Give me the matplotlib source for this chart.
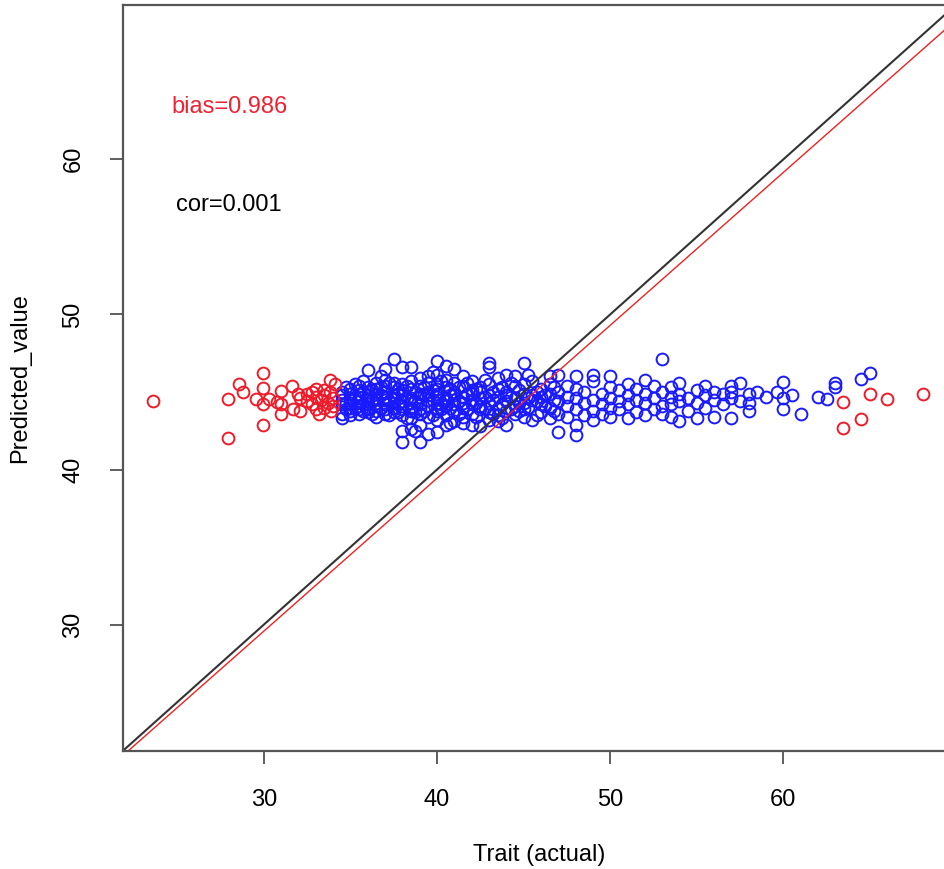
import numpy as np
import matplotlib.pyplot as plt

plt.rcParams['font.family'] = ['Liberation Sans', 'DejaVu Sans']

# predicted values of the middle (blue) individuals, grouped by trait value
blue_cols = {
    34.5: [44.2, 44.8, 43.6, 45.0, 44.5, 43.3],
    34.75: [44.3, 45.3, 43.9],
    35.0: [44.0, 44.6, 45.2, 43.8, 44.9, 44.3, 43.5],
    35.25: [44.7, 44.0, 45.5],
    35.5: [44.4, 45.1, 43.9, 44.7, 45.4, 44.1, 43.6, 44.9],
    35.75: [44.2, 45.0, 43.8, 45.7],
    36.0: [44.2, 44.8, 45.3, 43.7, 46.4, 44.5, 45.0, 43.9, 44.0],
    36.25: [44.5, 43.6, 45.1],
    36.5: [44.6, 45.2, 43.8, 44.3, 45.6, 44.9, 43.4, 44.1],
    36.75: [44.0, 45.3, 44.8, 46.0],
    37.0: [44.5, 46.5, 45.0, 43.9, 44.2, 45.4, 44.7, 43.6, 45.8],
    37.25: [44.4, 45.6, 43.5],
    37.5: [47.1, 44.3, 44.8, 45.3, 43.7, 44.0, 45.6, 44.6],
    37.75: [44.9, 44.2, 45.2, 43.7],
    38.0: [46.6, 44.1, 44.9, 45.5, 43.5, 42.5, 41.8, 44.4, 45.1, 43.9],
    38.25: [44.6, 43.3, 45.4],
    38.5: [46.6, 45.2, 44.6, 43.8, 42.6, 44.3, 45.7, 44.0, 43.3],
    38.75: [44.4, 45.0, 43.7, 42.5],
    39.0: [41.8, 44.7, 45.4, 43.6, 44.2, 45.9, 44.9, 42.9, 43.9],
    39.25: [44.9, 43.8, 45.3],
    39.5: [44.1, 45.0, 45.6, 43.4, 44.5, 46.0, 42.3, 44.8],
    39.75: [44.5, 45.1, 43.5, 46.3],
    40.0: [47.0, 46.1, 42.4, 44.3, 45.2, 43.8, 44.7, 45.5, 43.2, 44.0, 44.9],
    40.25: [44.2, 45.7, 43.9],
    40.5: [46.7, 44.6, 45.3, 43.5, 44.1, 45.8, 42.9, 44.4],
    40.75: [44.8, 44.0, 45.2, 43.0],
    41.0: [46.5, 44.2, 45.0, 43.7, 44.8, 45.6, 43.1, 44.5],
    41.25: [44.4, 45.3, 43.6],
    41.5: [44.0, 44.7, 45.4, 43.4, 46.0, 44.3, 43.0],
    41.75: [44.9, 43.9, 45.6],
    42.0: [44.5, 45.1, 43.6, 44.9, 45.7, 42.9, 44.2],
    42.25: [44.3, 45.2, 43.4],
    42.5: [42.8, 44.6, 45.3, 43.9, 44.1, 45.0],
    42.75: [44.7, 44.0, 45.8],
    43.0: [46.9, 46.6, 44.3, 43.2, 45.5, 44.8, 43.7],
    43.25: [44.5, 43.6, 45.0],
    43.5: [44.7, 45.2, 43.5, 44.0, 45.9, 43.1],
    43.75: [44.2, 45.3, 43.3],
    44.0: [44.4, 45.0, 43.8, 46.1, 44.8, 42.9],
    44.25: [44.7, 43.9, 45.6],
    44.5: [44.6, 45.4, 43.6, 44.1, 46.0],
    44.75: [44.3, 45.1, 43.8],
    45.0: [46.9, 44.9, 43.4, 44.3, 45.5, 43.9],
    45.25: [44.6, 44.0, 46.1],
    45.5: [44.5, 45.7, 43.2, 44.8],
    45.75: [44.4, 45.0, 43.5],
    46.0: [44.2, 45.2, 43.7, 44.7],
    46.25: [44.8, 44.1],
    46.5: [44.0, 44.9, 43.3, 45.5, 46.0],
    46.75: [44.5, 43.8, 45.3],
    47.0: [42.4, 44.4, 45.0, 43.6, 46.1],
    47.5: [44.7, 43.4, 45.4, 44.1],
    48.0: [42.2, 43.9, 44.6, 45.2, 46.0, 42.9],
    48.5: [44.3, 45.0, 43.5],
    49.0: [45.7, 44.5, 43.8, 43.2, 46.1],
    49.5: [44.2, 44.9, 43.6],
    50.0: [45.3, 44.6, 43.4, 46.0, 44.0],
    50.5: [44.4, 43.9, 45.1],
    51.0: [45.5, 44.8, 43.3, 44.2],
    51.5: [44.5, 43.7, 45.2],
    52.0: [45.8, 44.3, 43.5, 44.9],
    52.5: [44.6, 43.9, 45.4],
    53.0: [47.1, 44.1, 45.0, 43.6],
    53.5: [44.7, 43.4, 45.3, 44.2],
    54.0: [45.6, 44.4, 43.1, 44.9],
    54.5: [44.6, 43.8],
    55.0: [45.1, 44.3, 43.3],
    55.5: [44.8, 45.4, 44.0],
    56.0: [43.4, 44.5, 45.0],
    56.5: [44.9, 44.2],
    57.0: [43.3, 45.0, 44.6, 45.4],
    57.5: [45.6, 44.4],
    58.0: [44.9, 43.8, 44.3],
    58.5: [45.0],
    59.0: [44.7],
    59.6: [45.0],
    60.0: [45.65, 43.9, 44.6],
    60.5: [44.8],
    61.0: [43.57],
    62.0: [44.69],
    62.5: [44.52],
    63.0: [45.55, 45.3],
    64.5: [45.87],
    65.0: [46.23],
}
blue_x = [x for x, ys in blue_cols.items() for _ in ys]
blue_y = [y for ys in blue_cols.values() for y in ys]

# tails (red)
red_x = [23.59, 27.96, 27.96, 28.59, 28.82, 29.56, 29.98, 29.98, 29.98, 29.98,
         30.3, 30.75, 31.0, 31.0, 31.0, 31.62, 31.71, 32.0, 32.1, 32.1,
         32.5, 32.5, 32.8, 32.8, 33.0, 33.0, 33.0, 33.2, 33.3, 33.5,
         33.5, 33.5, 33.7, 33.8, 33.8, 34.0, 34.0, 34.1, 33.9,
         63.46, 63.46, 64.48, 64.97, 65.97, 68.03]
red_y = [44.43, 44.58, 42.06, 45.5, 45.01, 44.54, 46.23, 45.23, 44.2, 42.9,
         44.58, 44.36, 45.07, 43.6, 44.2, 45.37, 43.93, 44.9, 44.6, 43.8,
         44.9, 44.4, 45.0, 44.2, 44.7, 45.2, 43.9, 43.6, 44.5, 45.1,
         44.0, 44.8, 44.3, 45.76, 45.0, 44.6, 44.1, 45.5, 43.8,
         44.36, 42.65, 43.23, 44.9, 44.54, 44.84]

bias = 0.986
cor = 0.001
lims = (21.86, 69.95)

fig = plt.figure(figsize=(9.44, 8.69), dpi=100)
ax = fig.add_axes([0.130, 0.1358, 0.8825, 0.8585])

ax.plot(blue_x, blue_y, 'o', mfc='none', mec='#1a1aff', ms=8.5, mew=1.4)
ax.plot(red_x, red_y, 'o', mfc='none', mec='#ee1c2a', ms=8.5, mew=1.4)

xx = np.array(lims)
ax.plot(xx, xx, color='#333333', lw=1.5)
ax.plot(xx, bias * xx, color='#ee2222', lw=1.0)

ax.text(28, 63.4, f'bias={bias}', color='#ee2233', fontsize=17, ha='center', va='center')
ax.text(28, 57.05, f'cor={cor:.3f}', color='black', fontsize=17, ha='center', va='center')

ax.set_xlim(lims)
ax.set_ylim(lims)
ax.set_xticks([30, 40, 50, 60])
ax.set_yticks([30, 40, 50, 60])
ax.tick_params(length=9.5, width=1.2, color='#444444', labelsize=17, pad=18)
for lab in ax.get_yticklabels():
    lab.set_rotation(90)
    lab.set_va('center')
for s in ax.spines.values():
    s.set_color('#555555')
    s.set_linewidth(1.6)

ax.set_xlabel('Trait (actual)', fontsize=17)
ax.set_ylabel('Predicted_value', fontsize=17)
ax.xaxis.set_label_coords(0.5, -0.125)
ax.yaxis.set_label_coords(-0.11, 0.5)

fig.savefig('out.png', dpi=100)
